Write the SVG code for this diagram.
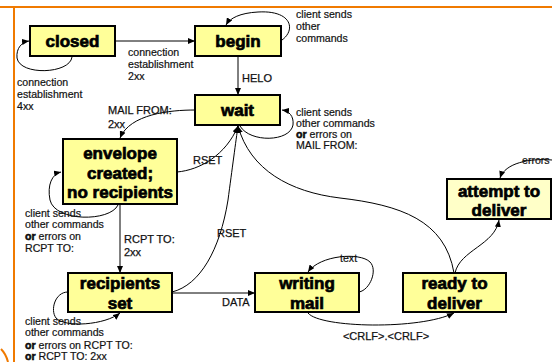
<svg xmlns="http://www.w3.org/2000/svg" width="552" height="362" viewBox="0 0 552 362">
<defs>
<marker id="ah" markerWidth="7" markerHeight="6" refX="7" refY="3" orient="auto" markerUnits="userSpaceOnUse">
<path d="M0,0 L7,3 L0,6 z" fill="#000"/>
</marker>
<style>
.node rect{fill:#FFFF99;stroke:#000;stroke-width:2}
.node rect.pale{fill:#FFFFC8}
.nt{font-family:"Liberation Sans",Arial,sans-serif;font-weight:bold;font-size:17px;fill:#000;stroke:#000;stroke-width:0.7;text-anchor:middle}
.lb{font-family:"Liberation Sans",Arial,sans-serif;font-size:10.6px;fill:#111;stroke:#111;stroke-width:0.2}
.tl{font-family:"Liberation Sans",Arial,sans-serif;font-size:11px;fill:#111;stroke:#111;stroke-width:0.25}
.or{font-weight:bold;stroke:#000;stroke-width:0.5}
.edge{fill:none;stroke:#000;stroke-width:1}
.arr{marker-end:url(#ah)}
.frame{stroke:#F07A00;stroke-width:2;fill:none}
</style>
</defs>
<rect width="552" height="362" fill="#fff"/>
<g id="frame">
<line class="frame" x1="0" y1="7" x2="552" y2="7"/>
<line class="frame" x1="14" y1="7" x2="14" y2="362"/>
<path class="frame" d="M1,349 Q6,354 8,362"/>
</g>
<g id="connectors">
<path class="edge arr" d="M72,57 C70,74 20,76 17,58 C16,48 22,42 29,41"/>
<path class="edge arr" d="M115,41 L195,41"/>
<path class="edge arr" d="M282,40 C296,30 292,10 258,12 C240,13 230,18 226,25"/>
<path class="edge arr" d="M238,56 L238,95"/>
<path class="edge arr" d="M240,126 C250,143 290,142 293,125 C294,116 289,111 282,110"/>
<path class="edge arr" d="M195,110 C170,110 130,114 120,138"/>
<path class="edge arr" d="M177,172 C200,170 226,155 238,126"/>
<path class="edge arr" d="M118,205 C110,222 55,222 50,200 C47,185 52,174 61,172"/>
<path class="edge arr" d="M120,204 L120,273"/>
<path class="edge arr" d="M68,292 C55,292 50,310 56,318 C65,328 105,325 120,313"/>
<path class="edge arr" d="M172,292 C200,285 220,250 228,200 C232,170 236,140 238,126"/>
<path class="edge arr" d="M172,293 L255,293"/>
<path class="edge arr" d="M359,292 C370,290 378,270 370,262 C360,252 320,255 308,272"/>
<path class="edge arr" d="M308,313 C320,328 420,330 454,313"/>
<path class="edge arr" d="M454,273 C445,220 400,205 340,198 C290,192 250,170 238,126"/>
<path class="edge arr" d="M455,273 C460,250 495,245 499,220"/>
<path class="edge arr" d="M552,160 C530,158 505,163 500,178"/>
</g>
<g id="labels">
<text class="lb" x="17" y="86">connection</text>
<text class="lb" x="17" y="98">establishment</text>
<text class="lb" x="17" y="110">4xx</text>
<text class="lb" x="128" y="56">connection</text>
<text class="lb" x="128" y="68">establishment</text>
<text class="lb" x="128" y="80">2xx</text>
<text class="lb" x="296" y="17.5">client sends</text>
<text class="lb" x="296" y="29.5">other</text>
<text class="lb" x="296" y="41.5">commands</text>
<text class="tl" x="242" y="82">HELO</text>
<text class="lb" x="296" y="116">client sends</text>
<text class="lb" x="296" y="127">other commands</text>
<text class="lb" x="296" y="138"><tspan class="or">or</tspan> errors on</text>
<text class="lb" x="296" y="149">MAIL FROM:</text>
<text class="tl" x="108" y="114">MAIL FROM:</text>
<text class="tl" x="108" y="128">2xx</text>
<text class="tl" x="193" y="164">RSET</text>
<text class="lb" x="25" y="216.5">client sends</text>
<text class="lb" x="25" y="228">other commands</text>
<text class="lb" x="25" y="240"><tspan class="or">or</tspan> errors on</text>
<text class="lb" x="25" y="252">RCPT TO:</text>
<text class="tl" x="124" y="243">RCPT TO:</text>
<text class="tl" x="124" y="256">2xx</text>
<text class="tl" x="217" y="237">RSET</text>
<text class="tl" x="222" y="306">DATA</text>
<text class="lb" x="25" y="325">client sends</text>
<text class="lb" x="25" y="336">other commands</text>
<text class="lb" x="25" y="348.5"><tspan class="or">or</tspan> errors on RCPT TO:</text>
<text class="lb" x="25" y="360"><tspan class="or">or</tspan> RCPT TO: 2xx</text>
<text class="lb" x="340" y="262">text</text>
<text class="tl" x="386" y="340" text-anchor="middle">&lt;CRLF&gt;.&lt;CRLF&gt;</text>
<text class="lb" x="522" y="164">errors</text>
</g>
<g id="closed" class="node"><rect x="30" y="26" width="85" height="30"/><text class="nt" x="72.5" y="47">closed</text></g>
<g id="begin" class="node"><rect x="195" y="26" width="86" height="30"/><text class="nt" x="238" y="47">begin</text></g>
<g id="wait" class="node"><rect x="195" y="95" width="85" height="30"/><text class="nt" x="237.5" y="116">wait</text></g>
<g id="envelope" class="node"><rect x="63" y="139" width="114" height="65"/><text class="nt" x="120" y="159">envelope</text><text class="nt" x="120" y="179">created;</text><text class="nt" x="120" y="198">no recipients</text></g>
<g id="recipients" class="node"><rect x="68" y="273" width="104" height="39"/><text class="nt" x="120" y="289">recipients</text><text class="nt" x="120" y="309">set</text></g>
<g id="writing" class="node"><rect x="255" y="273" width="104" height="39"/><text class="nt" x="307" y="289">writing</text><text class="nt" x="307" y="309">mail</text></g>
<g id="ready" class="node"><rect x="403" y="273" width="103" height="39"/><text class="nt" x="454.5" y="289">ready to</text><text class="nt" x="454.5" y="309">deliver</text></g>
<g id="attempt" class="node"><rect class="pale" x="447" y="179" width="104" height="40"/><text class="nt" x="499" y="197">attempt to</text><text class="nt" x="499" y="216">deliver</text></g>
</svg>
